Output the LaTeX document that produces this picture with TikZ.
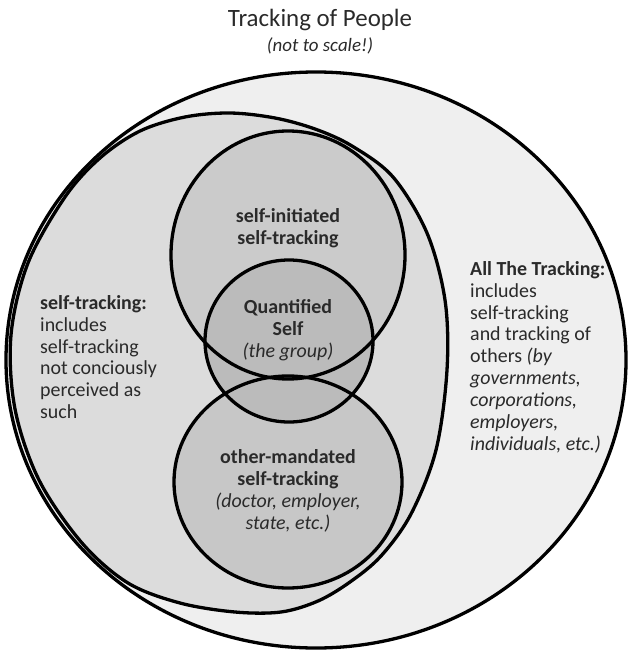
\documentclass[tikz,border=0pt]{standalone}
\usepackage{fontspec}
\setmainfont{Carlito}
\definecolor{txt}{HTML}{2A2A2A}
\definecolor{allfill}{HTML}{EFEFEF}
\definecolor{selffill}{HTML}{DCDCDC}
\definecolor{initfill}{HTML}{CBCBCB}
\definecolor{mandfill}{HTML}{C7C7C7}
\definecolor{qsfill}{HTML}{BBBBBB}
\begin{document}
\begin{tikzpicture}[x=1bp,y=-1bp,
  ring/.style={draw=black, line width=3.3bp},
  lbl/.style={font=\fontsize{20}{22}\selectfont, text=txt, inner sep=0pt, align=left},
  clbl/.style={font=\fontsize{20}{22}\selectfont, text=txt, inner sep=0pt, align=center}]
\useasboundingbox (0,0) rectangle (630,650);

% all tracking
\path[ring, fill=allfill] (316,360) ellipse[x radius=310bp, y radius=288bp];
% self-tracking: follows the outer rim on the left side
\path[ring, fill=selffill] plot[smooth cycle, tension=0.55] coordinates {
  (65,197) (100,158) (140,131) (185,117) (230,113) (275,118) (315,129)
  (352,146) (393,177) (427,233) (445,300) (447,370) (436,450) (411,514)
  (381,556) (350,582) (318,601) (281,612) (235,612) (180,603) (128,583)
  (82,543) (39,480) (15,409) (11,335) (28,263)};
% inner circles: fills first, outlines on top
\fill[initfill] (288,255) ellipse[x radius=117bp, y radius=124bp];
\fill[mandfill] (288,482) ellipse[x radius=114bp, y radius=106bp];
\fill[qsfill] (289,341) ellipse[x radius=84bp, y radius=81bp];
\draw[ring] (288,255) ellipse[x radius=117bp, y radius=124bp];
\draw[ring] (288,482) ellipse[x radius=114bp, y radius=106bp];
\draw[ring] (289,341) ellipse[x radius=84bp, y radius=81bp];

% titles
\node[font=\fontsize{25}{28}\selectfont, text=txt] (title) at (320,20) {Tracking of People};
\node[font=\itshape\fontsize{19}{21}\selectfont, text=txt] (subtitle) at (320,46) {(not to scale!)};

% labels
\node[lbl, anchor=north west] (selflbl) at (40,295)
  {\textbf{self-tracking:}\\includes\\self-tracking\\not conciously\\perceived as\\such};
\node[lbl, anchor=north west] (alllbl) at (470,261)
  {\textbf{All The Tracking:}\\includes\\self-tracking\\and tracking of\\others \textit{(by}\\\textit{governments,}\\\textit{corporations,}\\\textit{employers,}\\\textit{individuals, etc.)}};
\node[clbl, font=\bfseries\fontsize{20}{22}\selectfont] (initlbl) at (288,228)
  {self-initiated\\self-tracking};
\node[clbl] (qslbl) at (288,330)
  {\textbf{Quantified}\\\textbf{Self}\\\textit{(the group)}};
\node[clbl] (mandlbl) at (288,491)
  {\textbf{other-mandated}\\\textbf{self-tracking}\\\textit{(doctor, employer,}\\\textit{state, etc.)}};
\end{tikzpicture}
\end{document}
